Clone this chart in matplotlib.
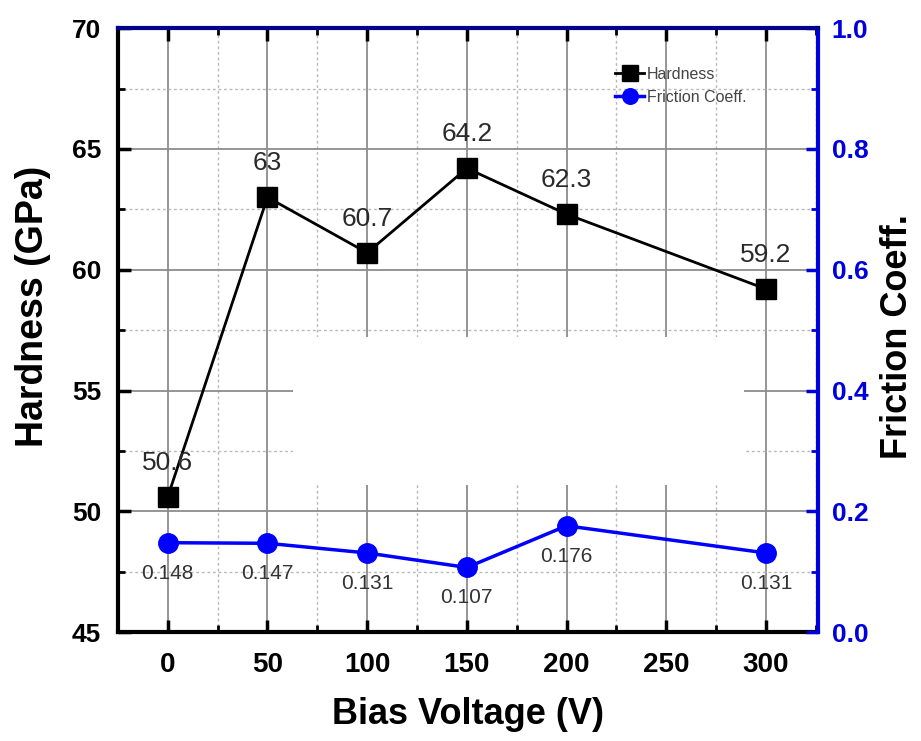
import matplotlib
matplotlib.use("Agg")
import matplotlib.pyplot as plt
from matplotlib.patches import Rectangle
from matplotlib.ticker import MultipleLocator, FormatStrFormatter

# data
bias = [0, 50, 100, 150, 200, 300]
hardness = [50.6, 63, 60.7, 64.2, 62.3, 59.2]
hardness_lbl = ["50.6", "63", "60.7", "64.2", "62.3", "59.2"]
friction = [0.148, 0.147, 0.131, 0.107, 0.176, 0.131]
friction_lbl = ["0.148", "0.147", "0.131", "0.107", "0.176", "0.131"]

plt.rcParams['font.family'] = ["Liberation Sans", "DejaVu Sans"]

fig = plt.figure(figsize=(9.21, 7.41), dpi=100)
ax = fig.add_axes([0.128, 0.147, 0.760, 0.815])
ax2 = ax.twinx()

# grid
ax.set_axisbelow(True)
ax.set_xlim(-25, 326)
ax.set_ylim(45, 70)
ax.xaxis.set_major_locator(MultipleLocator(50))
ax.xaxis.set_minor_locator(MultipleLocator(25))
ax.yaxis.set_major_locator(MultipleLocator(5))
ax.yaxis.set_minor_locator(MultipleLocator(2.5))
ax.grid(which='major', color='#8c8c8c', lw=1.3, ls='-')
ax.grid(which='minor', color='#b8b8b8', lw=1.0, ls=(0, (2, 2)))

# blank patch in the middle of the grid (as in the original figure)
ax.add_patch(Rectangle((63, 51.1), 226, 6.1, facecolor='white', edgecolor='none', zorder=1))

# hardness
ax.plot(bias, hardness, '-', color='black', lw=2.0, marker='s', ms=15,
        zorder=3, label='Hardness')
for x, y, t in zip(bias, hardness, hardness_lbl):
    ax.annotate(t, (x, y), xytext=(0, 16), textcoords='offset points',
                ha='center', va='bottom', fontsize=19, color='#2a2a2a')

# friction
ax2.plot(bias, friction, '-', color='#0000ff', lw=2.5, marker='o', ms=14,
         zorder=3, label='Friction Coeff.')
for x, y, t in zip(bias, friction, friction_lbl):
    ax2.annotate(t, (x, y), xytext=(0, -15), textcoords='offset points',
                 ha='center', va='top', fontsize=15, color='#333333')
ax2.set_ylim(0, 1.0)
ax2.yaxis.set_major_locator(MultipleLocator(0.2))
ax2.yaxis.set_minor_locator(MultipleLocator(0.1))
ax2.yaxis.set_major_formatter(FormatStrFormatter('%.1f'))

# spines and ticks
for s in ['left', 'bottom']:
    ax.spines[s].set_linewidth(3)
    ax.spines[s].set_color('black')
ax2.spines['right'].set_linewidth(3)
ax2.spines['right'].set_color('#0000dd')
ax2.spines['top'].set_linewidth(3)
ax2.spines['top'].set_color('#00008b')
ax2.spines['left'].set_visible(False)
ax2.spines['bottom'].set_visible(False)
ax.spines['right'].set_visible(False)
ax.spines['top'].set_visible(False)

ax.tick_params(axis='both', which='major', direction='in', length=9, width=2.5, color='black')
ax.tick_params(axis='both', which='minor', direction='in', length=5, width=2, color='black')
ax.tick_params(axis='x', which='both', top=True, pad=14)
ax.tick_params(axis='y', which='major', pad=12, labelsize=19)
ax.tick_params(axis='x', which='major', labelsize=20)
ax2.tick_params(axis='y', which='major', direction='in', length=9, width=2.5,
                color='#0000dd', labelcolor='#0000dd', labelsize=19, pad=10)
ax2.tick_params(axis='y', which='minor', direction='in', length=5, width=2, color='#0000dd')

for lab in ax.get_yticklabels() + ax2.get_yticklabels() + ax.get_xticklabels():
    lab.set_fontweight('bold')

ax.set_xlabel('Bias Voltage (V)', fontsize=26, fontweight='bold', labelpad=14)
ax.set_ylabel('Hardness (GPa)', fontsize=27, fontweight='bold')
ax.yaxis.set_label_coords(-0.095, 0.54)
ax2.set_ylabel('Friction Coeff.', fontsize=26, fontweight='bold')
ax2.yaxis.set_label_coords(1.089, 0.49)

# legend
h1, l1 = ax.get_legend_handles_labels()
h2, l2 = ax2.get_legend_handles_labels()
leg = ax2.legend(h1 + h2, l1 + l2, loc='upper left', bbox_to_anchor=(0.69, 0.96),
                 frameon=False, fontsize=11.5, markerscale=0.8, handlelength=1.8,
                 handletextpad=0.2, labelspacing=0.5)
for t in leg.get_texts():
    t.set_color('#444444')

fig.savefig('out.png', dpi=100)
